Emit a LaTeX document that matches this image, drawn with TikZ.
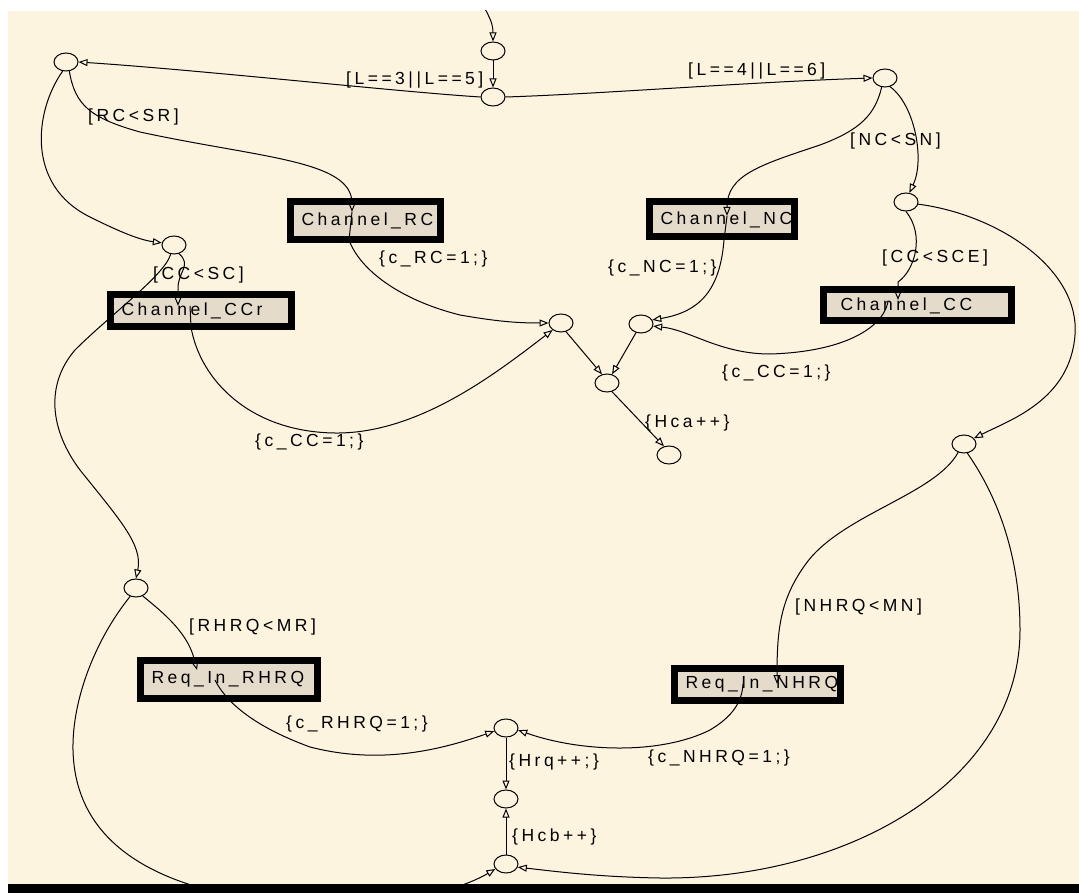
\documentclass[tikz,border=0pt]{standalone}
\usepackage{fontspec}
\newfontfamily\chartfont[LetterSpace=20]{Liberation Sans}
\usetikzlibrary{shapes.geometric,arrows.meta,calc}
\definecolor{paper}{HTML}{FDF4E0}
\definecolor{statefill}{HTML}{E4DBCB}
\newcommand\lbl{\chartfont\fontsize{17.5}{20}\selectfont}
\tikzset{
  junction/.style={ellipse, draw, line width=1pt, fill=paper,
    minimum width=24pt, minimum height=18pt, inner sep=0pt},
  stbox/.style={draw, line width=7pt, fill=statefill, inner xsep=11.5pt,
    inner ysep=0pt, align=left, font=\lbl, anchor=north west},
  trans/.style={line width=1pt, -{Triangle[open,length=9pt,width=7pt]}},
  lab/.style={font=\lbl, anchor=west, inner sep=0pt},
}
\begin{document}
\begin{tikzpicture}[x=1pt,y=-1pt]
\useasboundingbox (0,0) rectangle (1079,893);
\fill[white] (0,0) rectangle (1079,893);
\fill[paper] (8,11) rectangle (1079,884);
\begin{scope}
\clip (8,11) rectangle (1079,884);

% states
\node[stbox, minimum height=38pt, text width=127pt] (RC) at (286.5,198.5) {Channel\_RC};
\node[stbox, minimum height=35pt, text width=122pt] (NC) at (645.5,198.5) {Channel\_NC};
\node[stbox, minimum height=32pt, text width=158pt] (CCr) at (106.5,291.5) {Channel\_CCr};
\node[stbox, minimum height=31pt, text width=153pt, inner xsep=17.5pt] (CC) at (819.5,286.5) {Channel\_CC};
\node[stbox, minimum height=38pt, text width=154pt] (RHRQ) at (136.5,656.5) {Req\_In\_RHRQ};
\node[stbox, minimum height=32pt, text width=143pt] (NHRQ) at (670.5,664.5) {Req\_In\_NHRQ};

% connective junctions
\node[junction] (J0) at (493,51) {};
\node[junction] (J1) at (493,97) {};
\node[junction] (JL) at (66,62) {};
\node[junction] (JR) at (885,78) {};
\node[junction] (JCC) at (174,245) {};
\node[junction] (JSCE) at (906,202) {};
\node[junction] (Jc1) at (561,323) {};
\node[junction] (Jc2) at (641,324) {};
\node[junction] (Jc3) at (607,383) {};
\node[junction] (Jc4) at (669,455) {};
\node[junction] (JR2) at (964,444) {};
\node[junction] (JRH) at (136,588) {};
\node[junction] (Jrq) at (506,728) {};
\node[junction] (Jmid) at (506,799) {};
\node[junction] (Jbot) at (506,864) {};

% transition ends inside the states
\coordinate (entry) at (483,5);
\coordinate (RCin) at (352,212);
\coordinate (NCin) at (727,216);
\coordinate (CCrin) at (178,306);
\coordinate (CCrout) at (190,306);
\coordinate (CCin) at (898,300);
\coordinate (CCout) at (888,302);
\coordinate (RHin) at (197,670);
\coordinate (RHout) at (215,680);
\coordinate (NHin) at (777,684);
\coordinate (NHout) at (743,684);

% transitions
\draw[trans] (entry) .. controls (490,18) and (493,24) .. (J0.north);
\draw[trans] (J0.south) -- (J1.north);
\draw[trans] (J1.west) .. controls (400,92) and (200,70) .. (JL.east);
\draw[trans] (J1.east) .. controls (600,94) and (750,82) .. (JR.west);
\draw[trans] (JL.290) .. controls (75,105) and (90,118) .. (140,132)
  .. controls (260,158) and (352,160) .. (RCin);
\draw[trans] (JL.250) .. controls (35,110) and (25,185) .. (90,217)
  .. controls (120,232) and (140,240) .. (JCC.170);
\draw[trans] (JR.250) .. controls (875,115) and (860,130) .. (820,145)
  .. controls (760,165) and (727,175) .. (NCin);
\draw[trans] (JR.300) .. controls (915,105) and (925,160) .. (JSCE.70);
\draw[trans] (JSCE.270) .. controls (925,235) and (915,270) .. (898,282) -- (CCin);
\draw[trans] (JSCE.350) .. controls (1000,215) and (1080,270) .. (1075,335)
  .. controls (1070,400) and (1010,420) .. (JR2.30);
\draw[trans] (JR2.235) .. controls (935,495) and (840,515) .. (805,565)
  .. controls (780,600) and (777,630) .. (NHin);
\draw[trans] (JR2.290) .. controls (1000,500) and (1020,560) .. (1020,630)
  .. controls (1020,780) and (850,880) .. (660,878)
  .. controls (600,877) and (560,872) .. (Jbot.345);
\draw[trans] (JCC.300) .. controls (192,265) and (178,272) .. (178,288) -- (CCrin);
\draw[trans] (JCC.250) .. controls (165,275) and (110,315) .. (75,350)
  .. controls (45,385) and (50,430) .. (80,470)
  .. controls (120,520) and (143,545) .. (JRH.north);
\draw[trans] (RCin) -- (349,240) .. controls (360,270) and (400,300) .. (460,315)
  .. controls (500,322) and (520,323) .. (Jc1.west);
\draw[trans] (CCrout) -- (191,327) .. controls (200,380) and (250,432) .. (335,433)
  .. controls (420,434) and (500,370) .. (Jc1.220);
\draw[trans] (NCin) -- (724,240) .. controls (720,290) and (700,312) .. (Jc2.20);
\draw[trans] (CCout) .. controls (882,330) and (840,352) .. (770,354)
  .. controls (720,354) and (690,330) .. (Jc2.350);
\draw[trans] (Jc1.300) -- (Jc3.120);
\draw[trans] (Jc2.240) -- (Jc3.60);
\draw[trans] (Jc3.300) -- (Jc4.120);
\draw[trans] (JRH.310) .. controls (160,610) and (185,630) .. (193,655) -- (RHin);
\draw[trans] (RHout) .. controls (225,700) and (250,725) .. (310,747)
  .. controls (380,765) and (440,750) .. (Jrq.195);
\draw[trans] (JRH.235) .. controls (95,640) and (72,700) .. (73,750)
  .. controls (75,840) and (150,885) .. (260,900)
  .. controls (380,915) and (460,890) .. (Jbot.205);
\draw[trans] (NHout) .. controls (742,700) and (735,715) .. (710,730)
  .. controls (660,755) and (580,752) .. (Jrq.350);
\draw[trans] (Jrq.south) -- (Jmid.north);
\draw[trans] (Jbot.north) -- (Jmid.south);

% guards and actions
\node[lab] (g35) at (346,80) {[L==3||L==5]};
\node[lab] (g46) at (688,71) {[L==4||L==6]};
\node[lab] (gRC) at (88,117) {[RC<SR]};
\node[lab] (gNC) at (850,141) {[NC<SN]};
\node[lab] (gCC) at (153,275) {[CC<SC]};
\node[lab] (gCCE) at (882,258) {[CC<SCE]};
\node[lab] (aRC) at (379,259) {\{c\_RC=1;\}};
\node[lab] (aNC) at (608,268) {\{c\_NC=1;\}};
\node[lab] (aCCa) at (722,373) {\{c\_CC=1;\}};
\node[lab] (aCCb) at (255,442) {\{c\_CC=1;\}};
\node[lab] (aHca) at (645,423) {\{Hca++\}};
\node[lab] (gNH) at (795,607) {[NHRQ<MN]};
\node[lab] (gRH) at (189,627) {[RHRQ<MR]};
\node[lab] (aRH) at (286,724) {\{c\_RHRQ=1;\}};
\node[lab] (aNH) at (648,758) {\{c\_NHRQ=1;\}};
\node[lab] (aHrq) at (509,762) {\{Hrq++;\}};
\node[lab] (aHcb) at (512,837) {\{Hcb++\}};
\end{scope}
\fill[black] (8,884) rectangle (1079,893);
\end{tikzpicture}
\end{document}
